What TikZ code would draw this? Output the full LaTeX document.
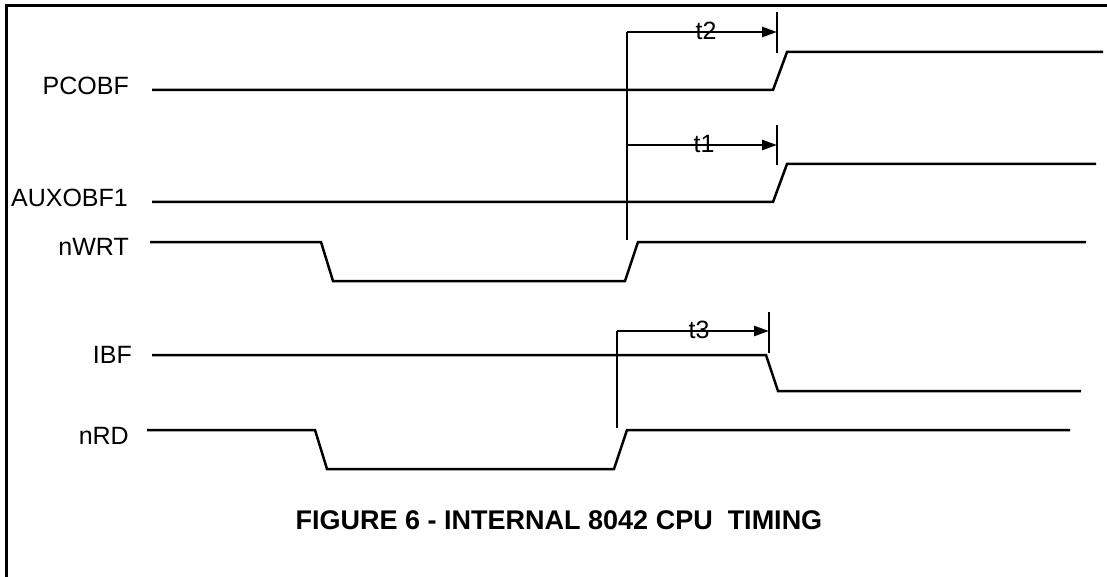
\documentclass[tikz,border=0pt]{standalone}
\usepackage{fontspec}
\setmainfont{Liberation Sans}
\usetikzlibrary{arrows.meta}

\begin{document}
\begin{tikzpicture}[x=1pt,y=-1pt,
    sig/.style={line width=2.5pt},
    lbl/.style={anchor=east,inner sep=0pt,font=\fontsize{25}{29}\selectfont},
    tlbl/.style={inner sep=0pt,font=\fontsize{25}{29}\selectfont},
    meas/.style={line width=2.5pt,-{Triangle[length=15pt,width=10pt]}}]
    \useasboundingbox (0,0) rectangle (1107,577);
    % frame
    \draw[line width=3pt] (6,577) -- (6,6) -- (1107,6);
    % signal names
    \node[lbl] (pcobf) at (129,86) {PCOBF};
    \node[lbl] (auxobf) at (128,198) {AUXOBF1};
    \node[lbl] (nwrt) at (129,247) {nWRT};
    \node[lbl] (ibf) at (132,355) {IBF};
    \node[lbl] (nrd) at (129,436) {nRD};
    % waveforms
    \draw[sig] (152,90) -- (773,90) -- (787,52) -- (1103,52);
    \draw[sig] (152,202) -- (773,202) -- (787,164) -- (1096,164);
    \draw[sig] (150,242) -- (321,242) -- (333,281) -- (625,281) -- (638,242) -- (1086,242);
    \draw[sig] (152,355) -- (766,355) -- (778,391) -- (1081,391);
    \draw[sig] (147,430) -- (315,430) -- (327,469) -- (614,469) -- (627,430) -- (1070,430);
    % t1, t2
    \draw[sig] (627,240) -- (627,32);
    \draw[meas] (627,32) -- (777,32);
    \draw[sig] (777,12) -- (777,53);
    \node[tlbl] (t2) at (706,31) {t2};
    \draw[meas] (627,145) -- (777,145);
    \draw[sig] (777,125) -- (777,165);
    \node[tlbl] (t1) at (704,144) {t1};
    % t3
    \draw[sig] (617,428) -- (617,331);
    \draw[meas] (617,331) -- (769,331);
    \draw[sig] (769,312) -- (769,353);
    \node[tlbl] (t3) at (699,330) {t3};
    % caption
    \node[font=\bfseries\fontsize{27}{31}\selectfont] (cap) at (559,520) {FIGURE 6 - INTERNAL 8042 CPU \ TIMING};
\end{tikzpicture}
\end{document}
